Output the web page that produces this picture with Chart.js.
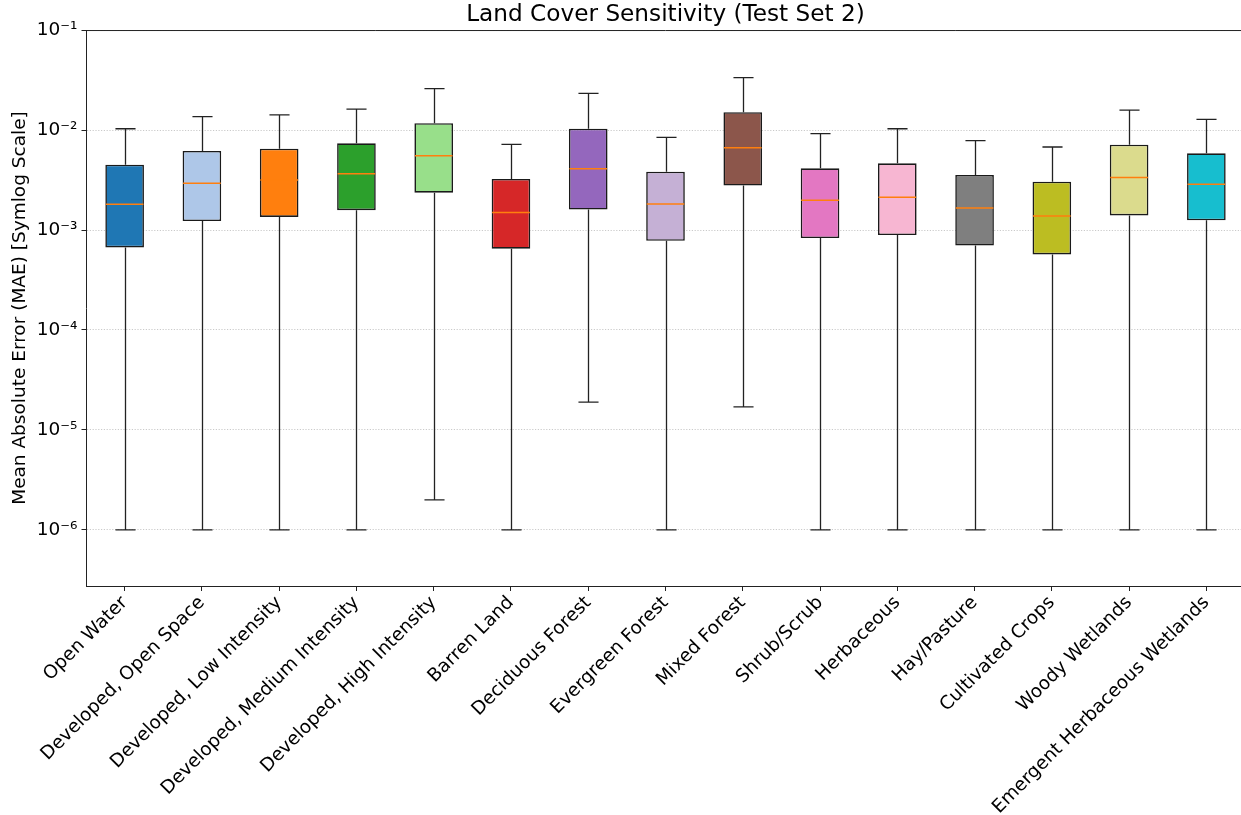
<!DOCTYPE html>
<html>
<head>
<meta charset="utf-8">
<script src="https://cdn.jsdelivr.net/npm/chart.js@4/dist/chart.umd.min.js"></script>
<style>
  html, body { margin: 0; padding: 0; background: #fff; overflow: hidden; }
  #wrap { width: 1245px; height: 815px; }
</style>
</head>
<body>
<div id="wrap"><canvas id="c" width="1245" height="815"></canvas></div>
<script>
const categories = ["Open Water", "Developed, Open Space", "Developed, Low Intensity", "Developed, Medium Intensity", "Developed, High Intensity", "Barren Land", "Deciduous Forest", "Evergreen Forest", "Mixed Forest", "Shrub/Scrub", "Herbaceous", "Hay/Pasture", "Cultivated Crops", "Woody Wetlands", "Emergent Herbaceous Wetlands"];
const whiskerLow  = [1.0e-6, 1.0e-6, 1.0e-6, 1.0e-6, 2.0e-6, 1.0e-6, 1.9e-5, 1.0e-6, 1.7e-5, 1.0e-6, 1.0e-6, 1.0e-6, 1.0e-6, 1.0e-6, 1.0e-6];
const q1          = [6.7e-4, 1.23e-3, 1.35e-3, 1.58e-3, 2.36e-3, 6.5e-4, 1.60e-3, 7.8e-4, 2.78e-3, 8.3e-4, 8.9e-4, 7.0e-4, 5.7e-4, 1.40e-3, 1.25e-3];
const median      = [1.81e-3, 2.93e-3, 3.16e-3, 3.66e-3, 5.54e-3, 1.50e-3, 4.11e-3, 1.82e-3, 6.66e-3, 1.98e-3, 2.12e-3, 1.66e-3, 1.38e-3, 3.36e-3, 2.86e-3];
const q3          = [4.50e-3, 6.17e-3, 6.51e-3, 7.36e-3, 1.17e-2, 3.24e-3, 1.03e-2, 3.83e-3, 1.51e-2, 4.14e-3, 4.64e-3, 3.55e-3, 3.04e-3, 7.14e-3, 5.85e-3];
const whiskerHigh = [1.03e-2, 1.36e-2, 1.42e-2, 1.62e-2, 2.59e-2, 7.19e-3, 2.33e-2, 8.45e-3, 3.34e-2, 9.19e-3, 1.03e-2, 7.82e-3, 6.76e-3, 1.58e-2, 1.28e-2];
const yTickValues = [1e-6, 1e-5, 1e-4, 1e-3, 1e-2, 1e-1];
const yTickLabels = ["10\u207B\u2076", "10\u207B\u2075", "10\u207B\u2074", "10\u207B\u00B3", "10\u207B\u00B2", "10\u207B\u00B9"];
const yMin = 2.75e-7;
const yMax = 1e-1;

const boxColors = ["#1f77b4", "#aec7e8", "#ff7f0e", "#2ca02c", "#98df8a", "#d62728", "#9467bd", "#c5b0d5", "#8c564b", "#e377c2", "#f7b6d2", "#7f7f7f", "#bcbd22", "#dbdb8d", "#17becf"];

const FONT = "'DejaVu Sans', sans-serif";

const boxParts = {
  id: 'boxParts',
  afterLayout(chart) {
    // centre the title over the plotting area, as in the reference
    const tb = chart.titleBlock;
    if (tb) {
      tb.left = chart.chartArea.left;
      tb.right = chart.chartArea.right;
      tb.width = tb.right - tb.left;
    }
  },
  beforeDatasetsDraw(chart) {
    const { ctx, scales: { x, y } } = chart;
    const step = x.getPixelForValue(1) - x.getPixelForValue(0);
    const capHalf = step * 0.13;
    ctx.save();
    ctx.strokeStyle = '#222';
    ctx.lineWidth = 1.3;
    categories.forEach((c, i) => {
      const px = Math.round(x.getPixelForValue(i)) + 0.5;
      const yl = y.getPixelForValue(whiskerLow[i]);
      const y1 = y.getPixelForValue(q1[i]);
      const y3 = y.getPixelForValue(q3[i]);
      const yh = y.getPixelForValue(whiskerHigh[i]);
      ctx.beginPath();
      ctx.moveTo(px, yl); ctx.lineTo(px, y1);
      ctx.moveTo(px, y3); ctx.lineTo(px, yh);
      ctx.moveTo(px - capHalf, yl); ctx.lineTo(px + capHalf, yl);
      ctx.moveTo(px - capHalf, yh); ctx.lineTo(px + capHalf, yh);
      ctx.stroke();
    });
    ctx.restore();
  },
  afterDatasetsDraw(chart) {
    const { ctx, scales: { x, y } } = chart;
    const meta = chart.getDatasetMeta(0);
    ctx.save();
    ctx.strokeStyle = '#ff7f0e';
    ctx.lineWidth = 1.5;
    categories.forEach((c, i) => {
      const el = meta.data[i];
      const half = el.width / 2 - 0.5;
      const px = x.getPixelForValue(i);
      const ym = y.getPixelForValue(median[i]);
      ctx.beginPath();
      ctx.moveTo(px - half, ym); ctx.lineTo(px + half, ym);
      ctx.stroke();
    });
    ctx.restore();
  },
  afterDraw(chart) {
    const { ctx, chartArea } = chart;
    ctx.save();
    ctx.strokeStyle = '#222';
    ctx.lineWidth = 1;
    ctx.beginPath();
    ctx.moveTo(chartArea.left, chartArea.top + 0.5);
    ctx.lineTo(chartArea.right, chartArea.top + 0.5);
    ctx.stroke();
    ctx.restore();
  }
};

new Chart(document.getElementById('c'), {
  type: 'bar',
  data: {
    labels: categories,
    datasets: [{
      data: q1.map((v, i) => [v, q3[i]]),
      backgroundColor: boxColors,
      borderColor: '#1a1a1a',
      borderWidth: 1.6,
      borderSkipped: false,
      barPercentage: 0.5,
      categoryPercentage: 1.0
    }]
  },
  options: {
    responsive: false,
    animation: false,
    devicePixelRatio: 1,
    layout: { padding: { left: 0, right: 0, top: 0, bottom: 0 } },
    plugins: {
      legend: { display: false },
      tooltip: { enabled: false },
      title: {
        display: true,
        text: 'Land Cover Sensitivity (Test Set 2)',
        color: '#000',
        font: { family: FONT, size: 23.2, weight: 'normal' },
        padding: { top: 1.5, bottom: 0.7 }
      }
    },
    scales: {
      x: {
        type: 'category',
        offset: true,
        grid: { display: true, offset: false, drawOnChartArea: false, drawTicks: true, tickLength: 5, tickColor: '#222', tickWidth: 1 },
        border: { display: true, color: '#222', width: 1 },
        ticks: {
          color: '#000',
          font: { family: FONT, size: 18.5 },
          minRotation: 45,
          maxRotation: 45,
          autoSkip: false,
          padding: 1
        },
        afterFit(scale) { scale.height = 229; }
      },
      y: {
        type: 'logarithmic',
        min: yMin,
        max: yMax,
        afterBuildTicks(scale) {
          scale.ticks = yTickValues.map(v => ({ value: v, major: true }));
        },
        afterFit(scale) { scale.width = 86; },
        grid: { display: true, color: '#bdbdbd', lineWidth: 0.8, drawTicks: true, tickLength: 4.5, tickColor: '#222', tickWidth: 1, tickBorderDash: [] },
        border: { display: true, color: '#222', width: 1, dash: [1.2, 1.6] },
        ticks: {
          color: '#000',
          font: { family: FONT, size: 18.5 },
          padding: 4,
          callback(value) {
            const idx = yTickValues.findIndex(v => Math.abs(v - value) / v < 1e-6);
            return idx >= 0 ? yTickLabels[idx] : '';
          }
        },
        title: {
          display: true,
          text: 'Mean Absolute Error (MAE) [Symlog Scale]',
          color: '#000',
          font: { family: FONT, size: 18.5 },
          padding: { top: 9, bottom: 0 }
        }
      }
    }
  },
  plugins: [boxParts]
});
</script>
</body>
</html>
